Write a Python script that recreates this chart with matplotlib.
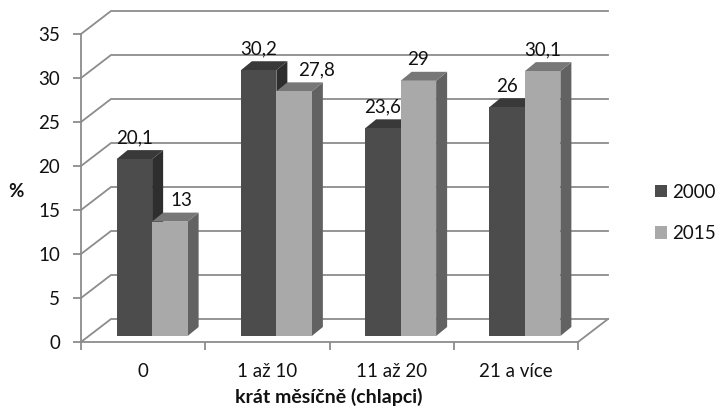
import matplotlib
matplotlib.use("Agg")
import matplotlib.pyplot as plt
from matplotlib.patches import Patch, Polygon

plt.rcParams["font.family"] = ["Lato", "DejaVu Sans"]

categories = ["0", "1 až 10", "11 až 20", "21 a více"]
series_names = ["2000", "2015"]
values_2000 = [20.1, 30.2, 23.6, 26]
values_2015 = [13, 27.8, 29, 30.1]
y_ticks = [0, 5, 10, 15, 20, 25, 30, 35]

# colours of the faces: front, top, side
dark = ("#4c4c4c", "#393939", "#2e2e2e")
light = ("#a9a9a9", "#777777", "#626262")
line_color = "#8c8c8c"
font_size = 13.5

fig = plt.figure(figsize=(7.18, 4.11), dpi=100)
ax = fig.add_axes([81 / 718, 69 / 411, 497 / 718, 308 / 411])
ax.set_xlim(-0.5, 3.5)
ax.set_ylim(0, 35)
ax.patch.set_visible(False)

# pixel to data helpers, the 3D look is only offsets
px_x = 4 / 497
px_y = 35 / 308
wall_dx, wall_dy = 30 * px_x, 23 * px_y
bar_dx, bar_dy = 9 * px_x, 6 * px_y
side_dx, side_dy = 11 * px_x, 9 * px_y
bar_w = 35.5 * px_x

# back wall, side wall and floor lines
for y in y_ticks:
    ax.plot([-0.5, -0.5 + wall_dx, 3.5 + wall_dx], [y, y + wall_dy, y + wall_dy],
            color=line_color, lw=1.3, clip_on=False, zorder=1)
ax.plot([3.5, 3.5 + wall_dx], [0, wall_dy], color=line_color, lw=1.3, clip_on=False, zorder=1)


def draw_bar(x, value, faces):
    left = x + bar_dx
    right = left + bar_w
    base = bar_dy
    top = value + bar_dy
    ax.add_patch(Polygon([(right, base), (right + side_dx, base + side_dy),
                          (right + side_dx, top + side_dy), (right, top)],
                         facecolor=faces[2], edgecolor="none", clip_on=False, zorder=3))
    ax.add_patch(Polygon([(left, top), (left + side_dx, top + side_dy),
                          (right + side_dx, top + side_dy), (right, top)],
                         facecolor=faces[1], edgecolor="none", clip_on=False, zorder=3))
    ax.bar(left, value, bar_w, bottom=base, align="edge", color=faces[0], clip_on=False, zorder=3)


# label shift in pixels for the ones that were moved off their bar
shift_2015 = [12, 22, 0, 0]
for i in range(len(categories)):
    x0 = i - bar_w
    draw_bar(x0, values_2000[i], dark)
    draw_bar(i, values_2015[i], light)
    ax.annotate(str(values_2000[i]).replace(".", ","), (x0 + bar_dx + bar_w / 2, values_2000[i] + bar_dy),
                xytext=(0, 21 * 0.72), textcoords="offset points", ha="center", va="center",
                fontsize=font_size, color="#111111", zorder=5, annotation_clip=False)
    ax.annotate(str(values_2015[i]).replace(".", ","), (i + bar_dx + bar_w / 2, values_2015[i] + bar_dy),
                xytext=(shift_2015[i] * 0.72, 21 * 0.72), textcoords="offset points", ha="center", va="center",
                fontsize=font_size, color="#111111", zorder=5, annotation_clip=False)

# axes
for side in ["top", "right"]:
    ax.spines[side].set_visible(False)
for side in ["left", "bottom"]:
    ax.spines[side].set_color(line_color)
    ax.spines[side].set_linewidth(1.3)
    ax.spines[side].set_zorder(2)

ax.set_yticks(y_ticks)
ax.set_xticks([-0.5, 0.5, 1.5, 2.5, 3.5])
ax.set_xticklabels([])
ax.set_xticks(range(len(categories)), labels=categories, minor=True)
ax.tick_params(axis="both", which="major", length=6, width=1.3, color=line_color,
               labelsize=font_size, labelcolor="#111111", pad=9)
ax.tick_params(axis="x", which="minor", length=0, labelsize=font_size, labelcolor="#111111", pad=15)

fig.text(16 / 718, 1 - 191 / 411, "%", fontsize=13.5, fontweight="bold", ha="center", va="center", color="#111111")
fig.text(329 / 718, 1 - 397 / 411, "krát měsíčně (chlapci)", fontsize=14, fontweight="bold",
         ha="center", va="center", color="#111111")

handles = [Patch(facecolor=dark[0], label=series_names[0]), Patch(facecolor=light[0], label=series_names[1])]
fig.legend(handles=handles, loc="center left", bbox_to_anchor=(655 / 718, 1 - 213 / 411), frameon=False,
           fontsize=font_size, handlelength=0.64, handleheight=0.64, handletextpad=0.25,
           labelspacing=1.3, borderpad=0, borderaxespad=0, labelcolor="#111111")

fig.savefig("out.png", dpi=100)
